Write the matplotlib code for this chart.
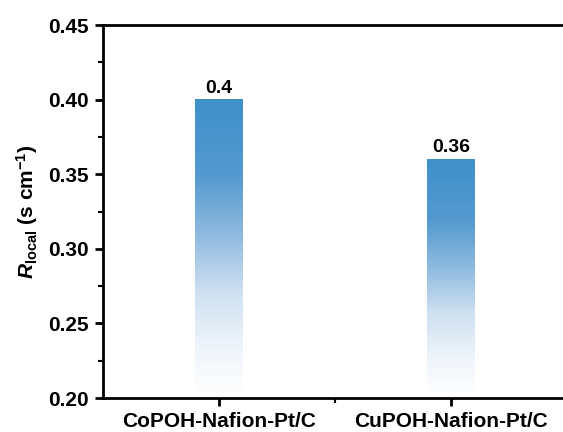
import matplotlib
matplotlib.use("Agg")
import matplotlib.pyplot as plt
import numpy as np
from matplotlib.colors import LinearSegmentedColormap
from matplotlib.ticker import MultipleLocator, FixedLocator

categories = ["CoPOH-Nafion-Pt/C", "CuPOH-Nafion-Pt/C"]
values = [0.40, 0.36]
labels = ["0.4", "0.36"]

plt.rcParams['font.family'] = ['Liberation Sans', 'DejaVu Sans']
plt.rcParams['font.weight'] = 'bold'
plt.rcParams['mathtext.fontset'] = 'custom'
plt.rcParams['mathtext.rm'] = 'Liberation Sans:bold'
plt.rcParams['mathtext.it'] = 'Liberation Sans:italic:bold'
plt.rcParams['mathtext.bf'] = 'Liberation Sans:bold'

W, H = 563, 432
fig = plt.figure(figsize=(W/100, H/100), dpi=100)
left, right, top, bottom = 103, 567, 25, 398
ax = fig.add_axes([left/W, (H-bottom)/H, (right-left)/W, (bottom-top)/H])

ymin, ymax = 0.20, 0.45
cmap = LinearSegmentedColormap.from_list("g", [
    (0.0, "#ffffff"), (0.15, "#f1f6fb"), (0.35, "#d0e1f1"),
    (0.55, "#8dbadf"), (0.75, "#5399cf"), (1.0, "#4090ca")])
grad = np.linspace(0, 1, 256).reshape(-1, 1)
x = np.arange(len(categories))
bw = 0.206
for xi, v, lab in zip(x, values, labels):
    ax.imshow(grad, cmap=cmap, origin='lower', aspect='auto',
              extent=[xi - bw/2, xi + bw/2, ymin, v], zorder=2)
    ax.text(xi, v + 0.002, lab, ha='center', va='bottom', fontsize=14, fontweight='bold')

ax.set_xlim(-0.5, 1.5)
ax.set_ylim(ymin, ymax)
ax.set_xticks(x)
ax.set_xticklabels(categories, fontsize=15, fontweight='bold')
ax.xaxis.set_minor_locator(FixedLocator([0.5]))
ax.yaxis.set_minor_locator(MultipleLocator(0.025))
ticks = np.arange(0.20, 0.451, 0.05)
ax.set_yticks(ticks)
ax.set_yticklabels([f"{t:.2f}" for t in ticks], fontsize=15, fontweight='bold')
ax.tick_params(which='major', direction='out', length=6, width=2, pad=4)
ax.tick_params(which='minor', direction='out', length=3.5, width=1.5)
for s in ax.spines.values():
    s.set_linewidth(2)
ax.spines['right'].set_visible(False)
ax.set_ylabel(r'$R_{\mathrm{local}}$ (s cm$^{-1}$)', fontsize=15, fontweight='bold', labelpad=6)

fig.savefig("out.png", dpi=100)
